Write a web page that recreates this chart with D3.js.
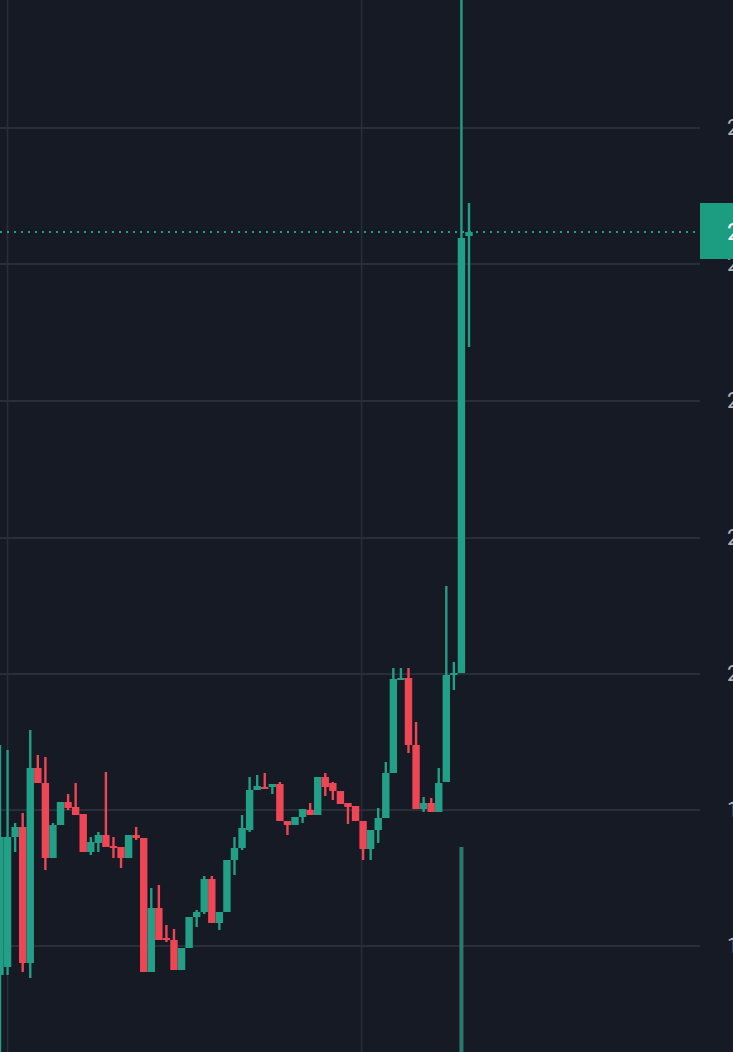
<!DOCTYPE html>
<html>
<head>
<meta charset="utf-8">
<script src="https://cdn.jsdelivr.net/npm/d3@7"></script>
<style>
  body { margin: 0; background: #161a25; overflow: hidden; }
  svg { display: block; }
</style>
</head>
<body>
<div id="chart"></div>
<script>
// candles: open, high, low, close (index -1 is the cut-off one at the left edge)
var opens  = [0.77,0.85,2.15,2.25,0.89,2.84,2.69,1.94,2.27,2.50,2.45,2.38,2.00,2.09,2.17,2.06,2.05,1.94,2.17,2.14,0.80,1.44,1.14,1.12,0.82,1.04,1.35,1.40,1.73,1.29,1.40,1.92,2.04,2.22,2.62,2.65,2.65,2.68,2.31,2.27,2.35,2.42,2.37,2.75,2.69,2.61,2.49,2.46,2.31,2.03,2.22,2.34,2.79,3.73,3.74,3.07,2.43,2.49,2.40,2.70,3.77,3.79,8.16];
var highs  = [3.07,3.02,2.29,2.39,3.22,2.97,2.95,2.29,2.50,2.58,2.69,2.38,2.15,2.20,2.80,2.15,2.05,2.17,2.25,2.14,1.64,1.67,1.27,1.23,1.04,1.35,1.42,1.76,1.76,1.40,1.92,2.15,2.37,2.75,2.77,2.79,2.68,2.70,2.31,2.35,2.43,2.49,2.75,2.79,2.70,2.61,2.49,2.46,2.31,2.22,2.44,2.90,3.84,3.84,3.84,3.30,2.55,2.54,2.84,4.66,3.90,10.6,8.49];
var lows   = [0.00,0.77,2.00,0.80,0.74,2.69,1.82,1.94,2.27,2.42,2.37,2.00,1.97,2.00,2.05,1.94,1.84,1.94,2.12,0.80,0.80,1.12,1.10,0.82,0.82,1.04,1.25,1.38,1.29,1.22,1.40,1.77,2.02,2.20,2.62,2.63,2.58,2.31,2.17,2.27,2.29,2.37,2.37,2.56,2.52,2.48,2.28,2.31,1.92,1.92,2.09,2.34,2.79,3.72,2.99,2.43,2.40,2.40,2.40,2.70,3.62,3.79,7.05];
var closes = [2.15,2.15,2.25,0.89,2.84,2.69,1.94,2.27,2.50,2.44,2.37,2.00,2.10,2.17,2.05,2.04,1.94,2.17,2.14,0.80,1.44,1.12,1.12,0.82,1.04,1.35,1.40,1.73,1.29,1.40,1.92,2.04,2.24,2.62,2.66,2.64,2.68,2.31,2.27,2.35,2.43,2.37,2.75,2.65,2.61,2.48,2.45,2.31,2.03,2.22,2.34,2.79,3.73,3.74,3.07,2.43,2.49,2.40,2.69,3.77,3.79,8.14,8.20];
var volumes = [];
for (var k = 0; k < opens.length; k++) volumes.push(0);
volumes[61] = 100; // only the breakout bar shows inside the frame
var priceTicks = [1.06, 2.42, 3.78, 5.14, 6.51, 7.88, 9.24];
var tickLabels = ["16.0", "18.0", "20.0", "22.0", "24.0", "26.0", "28.0"];
var lastPrice = 8.20;
var lastLabel = "28.2";
var timeLines = [0.0, 46.8];

var width = 733, height = 1052, plotRight = 700;
var green = "#22a087", red = "#ef4655";

var svg = d3.select("#chart").append("svg")
  .attr("width", width)
  .attr("height", height);

svg.append("rect").attr("width", width).attr("height", height).attr("fill", "#161a25");

var x = d3.scaleLinear().domain([-1, 61]).range([0, 469]);
var y = d3.scaleLinear().domain([0, 10.52]).range([height, 0]);
var v = d3.scaleLinear().domain([0, 100]).range([height, 847]);

// grid
svg.append("g").selectAll("line").data(priceTicks).enter().append("line")
  .attr("x1", 0).attr("x2", plotRight)
  .attr("y1", function(d) { return y(d); }).attr("y2", function(d) { return y(d); })
  .attr("stroke", "#2a2e39").attr("stroke-width", 2);
svg.append("g").selectAll("line").data(timeLines).enter().append("line")
  .attr("x1", function(d) { return x(d); }).attr("x2", function(d) { return x(d); })
  .attr("y1", 0).attr("y2", height)
  .attr("stroke", "#2a2e39").attr("stroke-width", 1.5);

var candles = opens.map(function(o, i) {
  return { i: i - 1, o: o, h: highs[i], l: lows[i], c: closes[i], vol: volumes[i] };
});

// volume
svg.append("g").selectAll("rect").data(candles.filter(function(d) { return d.vol > 0; })).enter().append("rect")
  .attr("x", function(d) { return x(d.i) - 2; })
  .attr("width", 4)
  .attr("y", function(d) { return v(d.vol); })
  .attr("height", function(d) { return height - v(d.vol); })
  .attr("fill", "#2b7a6d");

var g = svg.append("g");
g.selectAll("line").data(candles).enter().append("line")
  .attr("x1", function(d) { return x(d.i); }).attr("x2", function(d) { return x(d.i); })
  .attr("y1", function(d) { return y(d.h); }).attr("y2", function(d) { return y(d.l); })
  .attr("stroke", function(d) { return d.c >= d.o ? green : red; })
  .attr("stroke-width", 2.4);
g.selectAll("rect").data(candles).enter().append("rect")
  .attr("x", function(d) { return x(d.i) - 3.7; })
  .attr("width", 7.4)
  .attr("y", function(d) { return y(Math.max(d.o, d.c)); })
  .attr("height", function(d) { return Math.max(2, Math.abs(y(d.o) - y(d.c))); })
  .attr("fill", function(d) { return d.c >= d.o ? green : red; });

// last price line + label
svg.append("line")
  .attr("x1", 0).attr("x2", plotRight)
  .attr("y1", y(lastPrice)).attr("y2", y(lastPrice))
  .attr("stroke", green).attr("stroke-width", 2).attr("stroke-dasharray", "2,5");

// right axis (mostly cut off by the window edge)
svg.append("g").selectAll("text").data(priceTicks).enter().append("text")
  .attr("x", 727).attr("y", function(d) { return y(d) + 7; })
  .attr("fill", "#b2b5be").attr("font-family", "Roboto, sans-serif").attr("font-size", 22)
  .text(function(d, i) { return tickLabels[i]; });

svg.append("rect")
  .attr("x", 700).attr("y", y(lastPrice) - 29).attr("width", 40).attr("height", 56)
  .attr("fill", "#1c9c80");
svg.append("text")
  .attr("x", 727).attr("y", y(lastPrice) + 8)
  .attr("fill", "#ffffff").attr("font-family", "Roboto, sans-serif").attr("font-size", 24)
  .text(lastLabel);
</script>
</body>
</html>
